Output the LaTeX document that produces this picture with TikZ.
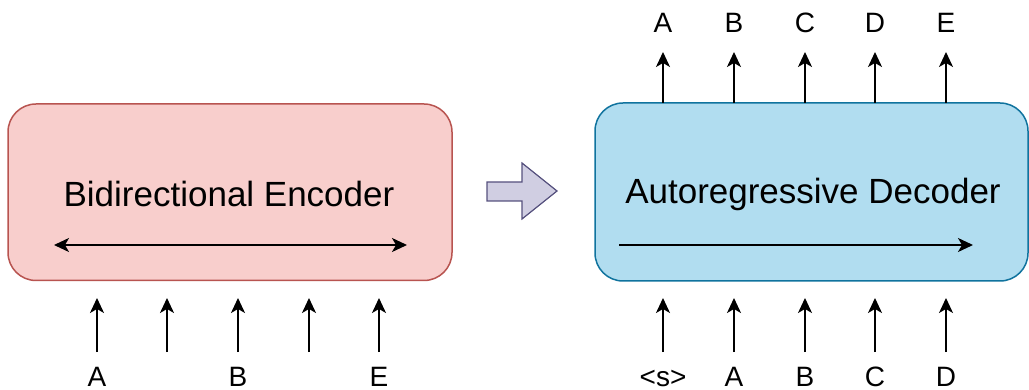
\documentclass[tikz,border=0pt]{standalone}
\usepackage{fontspec}
\setmainfont{Liberation Sans}
\usetikzlibrary{arrows.meta}
\definecolor{encfill}{HTML}{F8CECC}
\definecolor{encdraw}{HTML}{B85450}
\definecolor{decfill}{HTML}{B1DDF0}
\definecolor{decdraw}{HTML}{10739E}
\definecolor{arrfill}{HTML}{D0CEE2}
\definecolor{arrdraw}{HTML}{56517E}
\tikzset{
  tip/.tip={Stealth[length=15pt,width=14pt,inset=4pt]},
  box/.style={rounded corners=28pt, line width=1.5pt, inner sep=0pt},
  conn/.style={line width=1.6pt, -tip},
  lbl/.style={font=\fontsize{28}{32}\selectfont, inner sep=0pt, anchor=base},
  title/.style={font=\fontsize{35}{40}\selectfont, inner sep=0pt}
}
\begin{document}
\begin{tikzpicture}[x=1pt,y=-1pt]
\useasboundingbox (0,0) rectangle (1029,390);
% boxes
\draw[box, fill=encfill, draw=encdraw] (8,104) rectangle (452,280.5);
\draw[box, fill=decfill, draw=decdraw] (595,103) rectangle (1028,281);
\node[title] (enc) at (229,194) {Bidirectional Encoder};
\node[title] (dec) at (813,194) {Autoregressive Decoder};
% inner arrows
\coordinate (el) at (54,245);
\coordinate (er) at (407,245);
\draw[line width=1.6pt, tip-tip] (el) -- (er);
\coordinate (dl) at (619,245);
\coordinate (dr) at (973,245);
\draw[conn] (dl) -- (dr);
% big arrow
\draw[line width=1.2pt, draw=arrdraw, fill=arrfill]
  (487,182) -- (522,182) -- (522,163) -- (557,191) -- (522,219) -- (522,201) -- (487,201) -- cycle;
% encoder inputs
\foreach \i/\x in {1/97,2/167,3/238,4/309,5/379}{
  \coordinate (es\i) at (\x,352);
  \coordinate (ee\i) at (\x,298);
  \draw[conn] (es\i) -- (ee\i);
}
\node[lbl] (ea) at (97,386) {A};
\node[lbl] (eb) at (238,386) {B};
\node[lbl] (eE) at (379,386) {E};
% decoder inputs
\foreach \i/\x/\t in {1/663/{<s>},2/734/A,3/805/B,4/875/C,5/946/D}{
  \coordinate (ds\i) at (\x,352);
  \coordinate (de\i) at (\x,298);
  \draw[conn] (ds\i) -- (de\i);
  \node[lbl] (dl\i) at (\x,386) {\t};
}
% decoder outputs
\foreach \i/\x/\t in {1/663/A,2/734/B,3/805/C,4/875/D,5/946/E}{
  \coordinate (os\i) at (\x,103);
  \coordinate (oe\i) at (\x,52);
  \draw[conn] (os\i) -- (oe\i);
  \node[lbl] (ol\i) at (\x,33) {\t};
}
\end{tikzpicture}
\end{document}
